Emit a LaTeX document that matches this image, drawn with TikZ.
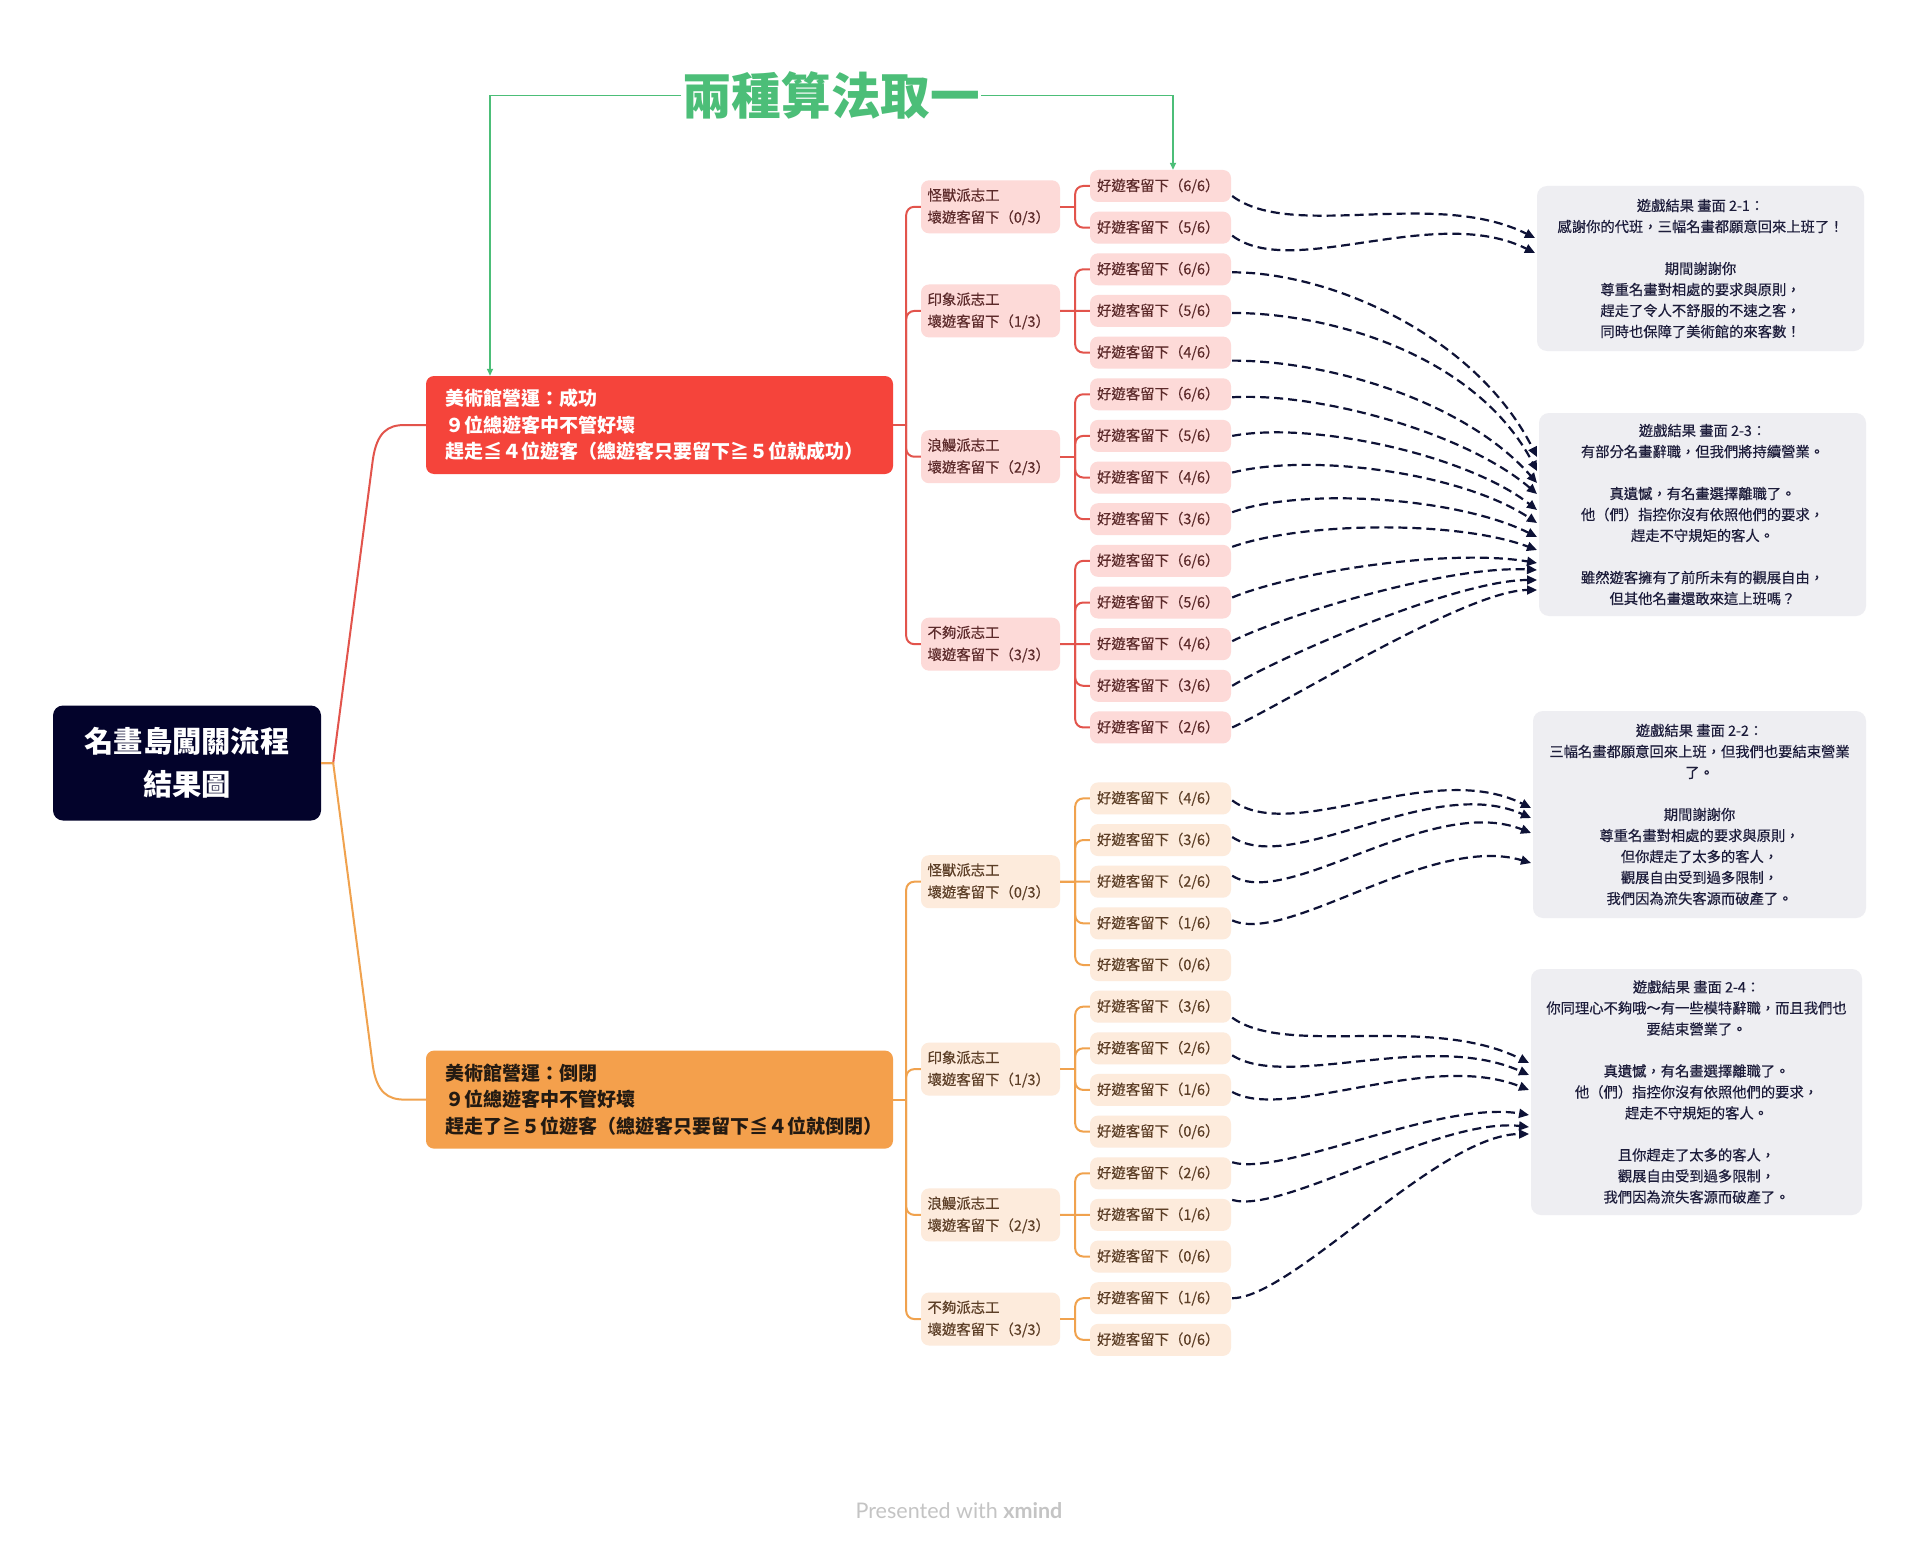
\documentclass[tikz,border=0pt]{standalone}
\usepackage{fontspec}
\setmainfont{Noto Sans CJK TC}
\newfontfamily\medfont{Noto Sans CJK TC}[FakeBold=0.4]
\newfontfamily\footfont{Lato}
\usetikzlibrary{calc,arrows.meta}
\definecolor{rootc}{HTML}{03032B}
\definecolor{redc}{HTML}{F5443B}
\definecolor{orgc}{HTML}{F4A04C}
\definecolor{redline}{HTML}{E2544C}
\definecolor{orgline}{HTML}{F0A24E}
\definecolor{redlite}{HTML}{FDDAD8}
\definecolor{orglite}{HTML}{FDEBDC}
\definecolor{redtxt}{HTML}{5C2A2A}
\definecolor{orgtxt}{HTML}{5C3E26}
\definecolor{resfill}{HTML}{EEEEF2}
\definecolor{restxt}{HTML}{1C1C3A}
\definecolor{navy}{HTML}{0E1236}
\definecolor{grn}{HTML}{4CBE78}
\definecolor{footc}{HTML}{C4C4C4}
\definecolor{orgmaintxt}{HTML}{231A12}
\tikzset{
  lvthree/.style={rounded corners=8pt, minimum height=32pt, text width=127pt, inner xsep=7pt, inner ysep=0pt, align=left, font=\medfont\fontsize{14.4}{21}\selectfont},
  lvthreer/.style={lvthree, fill=redlite, text=redtxt},
  lvthreeo/.style={lvthree, fill=orglite, text=orgtxt},
  lvtwo/.style={rounded corners=8pt, minimum height=53pt, text width=126pt, inner xsep=6.5pt, inner ysep=0pt, align=left, font=\medfont\fontsize{14.4}{22}\selectfont},
  lvtwor/.style={lvtwo, fill=redlite, text=redtxt},
  lvtwoo/.style={lvtwo, fill=orglite, text=orgtxt},
  mainbox/.style={rounded corners=8pt, minimum height=98pt, text width=429pt, inner xsep=19pt, inner ysep=0pt, align=left, font=\fontsize{19}{26.5}\selectfont\bfseries},
  rootbox/.style={rounded corners=10pt, fill=rootc, text=white, minimum width=268pt, minimum height=115pt, align=center, font=\fontsize{29.3}{43}\selectfont\bfseries},
  resbox/.style={rounded corners=10pt, fill=resfill, text=restxt, align=center, font=\medfont\fontsize{14.3}{21}\selectfont},
  titletext/.style={text=grn, inner xsep=1pt, inner ysep=0pt, font=\fontsize{49.6}{55}\selectfont\bfseries},
  tree/.style={line width=2pt},
  treer/.style={tree, draw=redline},
  treeo/.style={tree, draw=orgline},
  rel/.style={draw=navy, line width=2.2pt, dash pattern=on 9pt off 5pt, -{Triangle[length=10pt,width=9pt]}},
  grnline/.style={draw=grn, line width=1.6pt, -{Triangle[length=7pt,width=6pt]}},
}
\newcommand\relarrow[5]{\draw[rel] ($(#1.east)+(1,#2)$) .. controls +(#3) and +(#4) .. (#5);}
\begin{document}
\begin{tikzpicture}[x=1pt,y=-1pt]
\useasboundingbox (0,0) rectangle (1920,1541);
\fill[white] (0,0) rectangle (1920,1541);

% ---- nodes
\node[titletext] (title) at (831,95.5) {兩種算法取一};
\node[rootbox] (root) at (187,763) {名畫島闖關流程\\結果圖};
\node[mainbox, fill=redc, text=white] (mr) at (659.5,425) {美術館營運：成功\\９位總遊客中不管好壞\\趕走≦４位遊客（總遊客只要留下≧５位就成功）};
\node[mainbox, fill=orgc, text=orgmaintxt] (mo) at (659.5,1099.6) {美術館營運：倒閉\\９位總遊客中不管好壞\\趕走了≧５位遊客（總遊客只要留下≦４位就倒閉）};

\node[lvtwor] (ra) at (990.5,206.83) {怪獸派志工\\壞遊客留下（0/3）};
\node[lvtwor] (rb) at (990.5,310.95) {印象派志工\\壞遊客留下（1/3）};
\node[lvtwor] (rc) at (990.5,456.73) {浪鰻派志工\\壞遊客留下（2/3）};
\node[lvtwor] (rd) at (990.5,644.15) {不夠派志工\\壞遊客留下（3/3）};
\node[lvtwoo] (oa) at (990.5,881.7) {怪獸派志工\\壞遊客留下（0/3）};
\node[lvtwoo] (ob) at (990.5,1069.13) {印象派志工\\壞遊客留下（1/3）};
\node[lvtwoo] (oc) at (990.5,1214.9) {浪鰻派志工\\壞遊客留下（2/3）};
\node[lvtwoo] (od) at (990.5,1319.03) {不夠派志工\\壞遊客留下（3/3）};

\foreach \i/\n in {0/6,1/5,2/6,3/5,4/4,5/6,6/5,7/4,8/3,9/6,10/5,11/4,12/3,13/2}
  \node[lvthreer] (r\i) at (1160.5,{186+41.65*\i}) {好遊客留下（\n/6）};
\foreach \j/\n in {0/4,1/3,2/2,3/1,4/0,5/3,6/2,7/1,8/0,9/2,10/1,11/0,12/1,13/0}
  \node[lvthreeo] (o\j) at (1160.5,{798.4+41.65*\j}) {好遊客留下（\n/6）};

\node[resbox, minimum width=327pt, minimum height=165pt] (res21) at (1700.5,268.5) {遊戲結果 畫面 2-1：\\感謝你的代班，三幅名畫都願意回來上班了！\\[21pt]期間謝謝你\\尊重名畫對相處的要求與原則，\\趕走了令人不舒服的不速之客，\\同時也保障了美術館的來客數！};
\node[resbox, minimum width=327pt, minimum height=203pt] (res23) at (1702.5,514.5) {遊戲結果 畫面 2-3：\\有部分名畫辭職，但我們將持續營業。\\[21pt]真遺憾，有名畫選擇離職了。\\他（們）指控你沒有依照他們的要求，\\趕走不守規矩的客人。\\[21pt]雖然遊客擁有了前所未有的觀展自由，\\但其他名畫還敢來這上班嗎？};
\node[resbox, minimum width=333pt, minimum height=207pt] (res22) at (1699.5,814.5) {遊戲結果 畫面 2-2：\\三幅名畫都願意回來上班，但我們也要結束營業\\了。\\[21pt]期間謝謝你\\尊重名畫對相處的要求與原則，\\但你趕走了太多的客人，\\觀展自由受到過多限制，\\我們因為流失客源而破產了。};
\node[resbox, minimum width=331pt, minimum height=246pt] (res24) at (1696.5,1092) {遊戲結果 畫面 2-4：\\你同理心不夠哦～有一些模特辭職，而且我們也\\要結束營業了。\\[21pt]真遺憾，有名畫選擇離職了。\\他（們）指控你沒有依照他們的要求，\\趕走不守規矩的客人。\\[21pt]且你趕走了太多的客人，\\觀展自由受到過多限制，\\我們因為流失客源而破產了。};

\node[font=\footfont\fontsize{21.5}{24}\selectfont, text=footc] (foot) at (959,1511) {Presented with \textbf{xmind}};

% ---- green connectors
\draw[grnline] (title.west) -| ([xshift=-169.5pt]mr.north);
\draw[grnline] (title.east) -| ([xshift=12.5pt]r0.north);

% ---- root connectors
\draw[treer] (root.east) -- ++(12,0) -- ($(mr.west)+(-53,35)$) .. controls ($(mr.west)+(-49,7)$) and ($(mr.west)+(-38,0)$) .. ($(mr.west)+(-21,0)$) -- (mr.west);
\draw[treeo] (root.east) -- ++(12,0) -- ($(mo.west)+(-53,-34)$) .. controls ($(mo.west)+(-49,-7)$) and ($(mo.west)+(-38,0)$) .. ($(mo.west)+(-21,0)$) -- (mo.west);

% ---- level 1 -> 2
\draw[treer] (mr.east) -- ++(13,0);
\foreach \c in {ra,rb,rc,rd} \draw[treer,rounded corners=8pt] ($(mr.east)+(13,0)$) |- (\c.west);
\draw[treeo] (mo.east) -- ++(13,0);
\foreach \c in {oa,ob,oc,od} \draw[treeo,rounded corners=8pt] ($(mo.east)+(13,0)$) |- (\c.west);

% ---- level 2 -> 3
\foreach \p/\cl in {ra/{r0,r1},rb/{r2,r4},rc/{r5,r6,r7,r8},rd/{r9,r10,r12,r13}}{
  \draw[treer] (\p.east) -- ++(15,0);
  \foreach \c in \cl \draw[treer,rounded corners=8pt] ($(\p.east)+(15,0)$) |- (\c.west);
}
\draw[treer] (rb.east) -- (r3.west);
\draw[treer] (rd.east) -- (r11.west);
\foreach \p/\cl in {oa/{o0,o1,o3,o4},ob/{o5,o6,o7,o8},oc/{o9,o11},od/{o12,o13}}{
  \draw[treeo] (\p.east) -- ++(15,0);
  \foreach \c in \cl \draw[treeo,rounded corners=8pt] ($(\p.east)+(15,0)$) |- (\c.west);
}
\draw[treeo] (oa.east) -- (o2.west);
\draw[treeo] (oc.east) -- (o10.west);

% ---- arrow end points
\coordinate (e21a) at (1535,238);
\coordinate (e21b) at (1535,253);
\coordinate (e23a) at (1537,457);
\coordinate (e23b) at (1537,471);
\coordinate (e23c) at (1537,483);
\coordinate (e23d) at (1537,494);
\coordinate (e23e) at (1537,510);
\coordinate (e23f) at (1537,523);
\coordinate (e23g) at (1537,537);
\coordinate (e23h) at (1537,550);
\coordinate (e23i) at (1537,563);
\coordinate (e23j) at (1537,570);
\coordinate (e23k) at (1537,580);
\coordinate (e23l) at (1537,590);
\coordinate (e22a) at (1531,808);
\coordinate (e22b) at (1531,818);
\coordinate (e22c) at (1531,833);
\coordinate (e22d) at (1531,863);
\coordinate (e24a) at (1529,1063);
\coordinate (e24b) at (1529,1075);
\coordinate (e24c) at (1529,1090);
\coordinate (e24d) at (1529,1115);
\coordinate (e24e) at (1529,1127);
\coordinate (e24f) at (1529,1134);

% ---- dashed relationship arrows
\relarrow{r0}{10}{60,45}{-100,-50}{e21a}
\relarrow{r1}{8}{60,45}{-100,-50}{e21b}
\relarrow{r2}{3}{100,0}{-60,-120}{e23a}
\relarrow{r3}{2}{100,0}{-60,-115}{e23b}
\relarrow{r4}{8}{100,0}{-70,-80}{e23c}
\relarrow{r5}{3}{90,-5}{-70,-60}{e23d}
\relarrow{r6}{0}{80,-15}{-70,-55}{e23e}
\relarrow{r7}{-5}{80,-20}{-75,-50}{e23f}
\relarrow{r8}{-7}{70,-25}{-80,-40}{e23g}
\relarrow{r9}{-14}{70,-25}{-80,-30}{e23h}
\relarrow{r10}{-5}{60,-25}{-90,-15}{e23i}
\relarrow{r11}{-3}{50,-25}{-90,-5}{e23j}
\relarrow{r12}{0}{50,-30}{-80,0}{e23k}
\relarrow{r13}{0}{55,-25}{-70,0}{e23l}
\relarrow{o0}{2}{60,45}{-100,-50}{e22a}
\relarrow{o1}{-3}{60,40}{-100,-45}{e22b}
\relarrow{o2}{-6}{55,35}{-100,-40}{e22c}
\relarrow{o3}{-3}{55,25}{-100,-30}{e22d}
\relarrow{o5}{11}{55,40}{-100,-50}{e24a}
\relarrow{o6}{7}{55,35}{-100,-45}{e24b}
\relarrow{o7}{2}{55,30}{-100,-40}{e24c}
\relarrow{o9}{-11}{50,15}{-90,-15}{e24d}
\relarrow{o10}{-15}{50,15}{-90,-10}{e24e}
\relarrow{o12}{0}{60,0}{-90,0}{e24f}
\end{tikzpicture}
\end{document}
